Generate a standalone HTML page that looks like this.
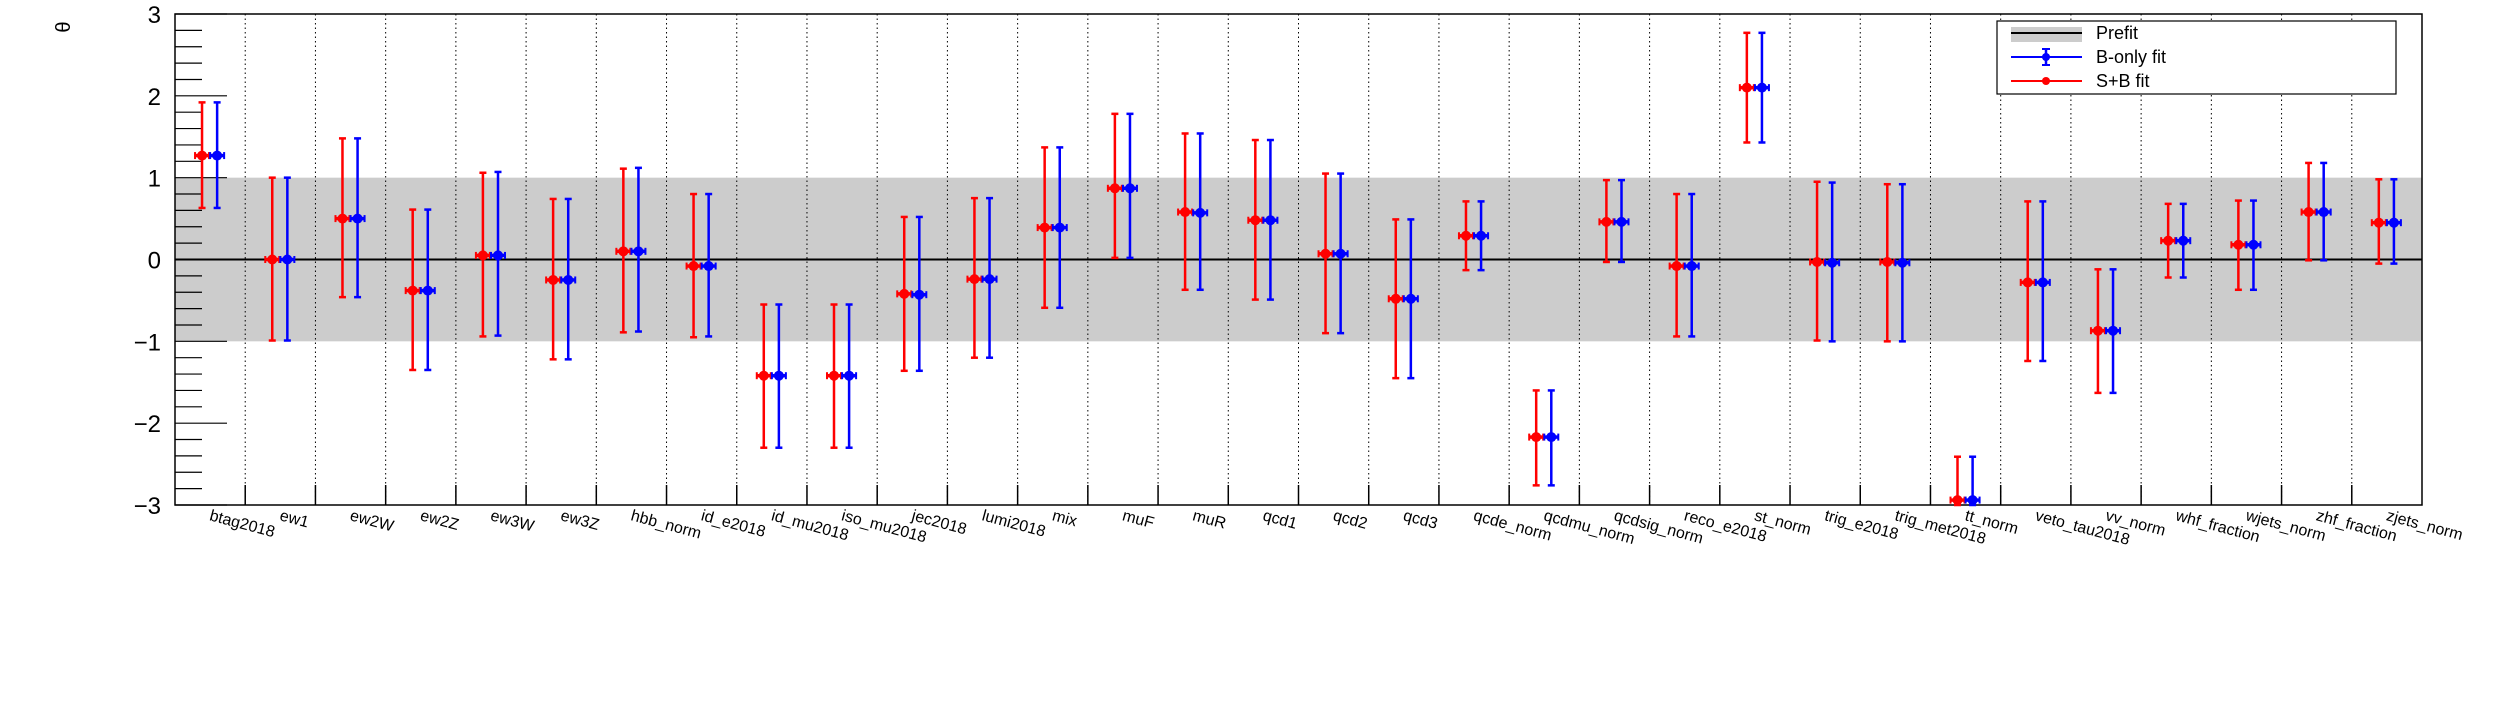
<!DOCTYPE html>
<html><head><meta charset="utf-8"><style>
html,body{margin:0;padding:0;background:#fff;}
svg{display:block;font-family:"Liberation Sans",sans-serif;}
</style></head><body>
<svg id="chart" width="2496" height="722" xmlns="http://www.w3.org/2000/svg">
<rect width="2496" height="722" fill="#fff"/>
</svg>
<script>
const categories=["btag2018","ew1","ew2W","ew2Z","ew3W","ew3Z","hbb_norm","id_e2018","id_mu2018","iso_mu2018","jec2018","lumi2018","mix","muF","muR","qcd1","qcd2","qcd3","qcde_norm","qcdmu_norm","qcdsig_norm","reco_e2018","st_norm","trig_e2018","trig_met2018","tt_norm","veto_tau2018","vv_norm","whf_fraction","wjets_norm","zhf_fraction","zjets_norm"];
const sbVal=[1.27,0.0,0.5,-0.38,0.05,-0.25,0.1,-0.08,-1.42,-1.42,-0.42,-0.24,0.39,0.87,0.58,0.48,0.07,-0.48,0.29,-2.17,0.46,-0.08,2.1,-0.03,-0.03,-2.94,-0.28,-0.87,0.23,0.18,0.58,0.45];
const sbLo=[0.63,-0.99,-0.46,-1.35,-0.94,-1.22,-0.89,-0.95,-2.3,-2.3,-1.36,-1.2,-0.59,0.02,-0.37,-0.49,-0.9,-1.45,-0.13,-2.76,-0.03,-0.94,1.43,-0.99,-1.0,-3.0,-1.24,-1.63,-0.22,-0.37,-0.01,-0.05];
const sbHi=[1.92,1.0,1.48,0.61,1.06,0.74,1.11,0.8,-0.55,-0.55,0.52,0.75,1.37,1.78,1.54,1.46,1.05,0.49,0.71,-1.6,0.97,0.8,2.77,0.95,0.92,-2.41,0.71,-0.12,0.68,0.72,1.18,0.98];
const bVal=[1.27,0.0,0.5,-0.38,0.05,-0.25,0.1,-0.08,-1.42,-1.42,-0.43,-0.24,0.39,0.87,0.57,0.48,0.07,-0.48,0.29,-2.17,0.46,-0.08,2.1,-0.04,-0.04,-2.94,-0.28,-0.87,0.23,0.18,0.58,0.45];
const bLo=[0.63,-0.99,-0.46,-1.35,-0.93,-1.22,-0.88,-0.94,-2.3,-2.3,-1.36,-1.2,-0.59,0.02,-0.37,-0.49,-0.9,-1.45,-0.13,-2.76,-0.03,-0.94,1.43,-1.0,-1.0,-3.0,-1.24,-1.63,-0.22,-0.37,-0.01,-0.05];
const bHi=[1.92,1.0,1.48,0.61,1.07,0.74,1.12,0.8,-0.55,-0.55,0.52,0.75,1.37,1.78,1.54,1.46,1.05,0.49,0.71,-1.6,0.97,0.8,2.77,0.94,0.92,-2.41,0.71,-0.12,0.68,0.72,1.18,0.98];
const yTicks=[-3,-2,-1,0,1,2,3];

const NS="http://www.w3.org/2000/svg";
const svg=document.getElementById('chart');
const L=175,R=2422,T=14,B=505,yMin=-3,yMax=3;
const bw=(R-L)/categories.length;
const xPos=(i,f)=>L+(i+f)*bw;
const yPos=v=>B-(v-yMin)/(yMax-yMin)*(B-T);
function mk(tag,attrs,parent){const e=document.createElementNS(NS,tag);for(const k in attrs)e.setAttribute(k,attrs[k]);(parent||svg).appendChild(e);return e;}

const band=mk('rect',{x:L,y:yPos(1),width:R-L,height:yPos(-1)-yPos(1),fill:'#cccccc'});


for(let i=1;i<categories.length;i++){
  const g=mk('line',{x1:xPos(i,0),x2:xPos(i,0),y1:T,y2:B,stroke:'#000','stroke-width':1,'stroke-dasharray':'1.5,3'});
  
  
  mk('line',{x1:xPos(i,0),x2:xPos(i,0),y1:B-20,y2:B,stroke:'#000','stroke-width':1.5});
}
const z=mk('line',{x1:L,x2:R,y1:yPos(0),y2:yPos(0),stroke:'#000','stroke-width':2});


for(let v=-3;v<=3.001;v+=0.2){
  const vv=Math.round(v*10)/10;
  const major=Math.abs(vv-Math.round(vv))<1e-6;
  mk('line',{x1:L,x2:L+(major?52:27),y1:yPos(vv),y2:yPos(vv),stroke:'#000','stroke-width':1.2});
}
yTicks.forEach(t=>{
  const tx=mk('text',{x:L-14,y:yPos(t)+9,'text-anchor':'end','font-size':24,fill:'#000'});
  tx.textContent=(t<0?'\u2212'+(-t):String(t));
  
  
});
const yt=mk('text',{x:0,y:0,'font-size':20,'text-anchor':'middle',transform:'translate(70,27) rotate(-90)'});
yt.textContent='θ';


const fr=mk('rect',{x:L,y:T,width:R-L,height:B-T,fill:'none',stroke:'#000','stroke-width':1.5});


categories.forEach((c,i)=>{
  const x=xPos(i,0.48),y=B+15;
  const t=mk('text',{x:x,y:y,'font-size':16,transform:`rotate(15 ${x} ${y})`});
  t.textContent=c;
  
  
});
function drawPt(i,f,v,lo,hi,col,name){
  const g=mk('g',{});
  
  
  const x=xPos(i,f);
  mk('line',{x1:x,x2:x,y1:yPos(hi),y2:yPos(lo),stroke:col,'stroke-width':2.5},g);
  mk('line',{x1:x-3.5,x2:x+3.5,y1:yPos(hi),y2:yPos(hi),stroke:col,'stroke-width':2.5},g);
  mk('line',{x1:x-3.5,x2:x+3.5,y1:yPos(lo),y2:yPos(lo),stroke:col,'stroke-width':2.5},g);
  mk('line',{x1:x-7,x2:x+7,y1:yPos(v),y2:yPos(v),stroke:col,'stroke-width':3.5},g);
  mk('line',{x1:x-7,x2:x-7,y1:yPos(v)-3.5,y2:yPos(v)+3.5,stroke:col,'stroke-width':2},g);
  mk('line',{x1:x+7,x2:x+7,y1:yPos(v)-3.5,y2:yPos(v)+3.5,stroke:col,'stroke-width':2},g);
  mk('circle',{cx:x,cy:yPos(v),r:5,fill:col},g);
}
categories.forEach((c,i)=>{
  drawPt(i,0.385,sbVal[i],sbLo[i],sbHi[i],'#ff0000','sb-fit-point');
  drawPt(i,0.6,bVal[i],bLo[i],bHi[i],'#0000ff','bonly-fit-point');
});
const lg=mk('g',{});


mk('rect',{x:1997,y:21,width:399,height:73,fill:'#fff',stroke:'#000','stroke-width':1.2},lg);
mk('rect',{x:2011,y:27,width:71,height:15,fill:'#cccccc'},lg);
mk('line',{x1:2011,x2:2082,y1:33,y2:33,stroke:'#000','stroke-width':2},lg);
mk('line',{x1:2011,x2:2082,y1:57,y2:57,stroke:'#0000ff','stroke-width':2},lg);
mk('line',{x1:2046,x2:2046,y1:49,y2:65,stroke:'#0000ff','stroke-width':2.5},lg);
mk('line',{x1:2042,x2:2050,y1:49,y2:49,stroke:'#0000ff','stroke-width':2},lg);
mk('line',{x1:2042,x2:2050,y1:65,y2:65,stroke:'#0000ff','stroke-width':2},lg);
mk('circle',{cx:2046,cy:57,r:4,fill:'#0000ff'},lg);
mk('line',{x1:2011,x2:2082,y1:81,y2:81,stroke:'#ff0000','stroke-width':2},lg);
mk('circle',{cx:2046,cy:81,r:4,fill:'#ff0000'},lg);
[['Prefit',33,'legend-entry-prefit'],['B-only fit',57,'legend-entry-bonly'],['S+B fit',81,'legend-entry-sb']].forEach(([s,y,n])=>{
  const t=mk('text',{x:2096,y:y+6,'font-size':18},lg);
  t.textContent=s;
  
  
});
</script>
</body></html>
